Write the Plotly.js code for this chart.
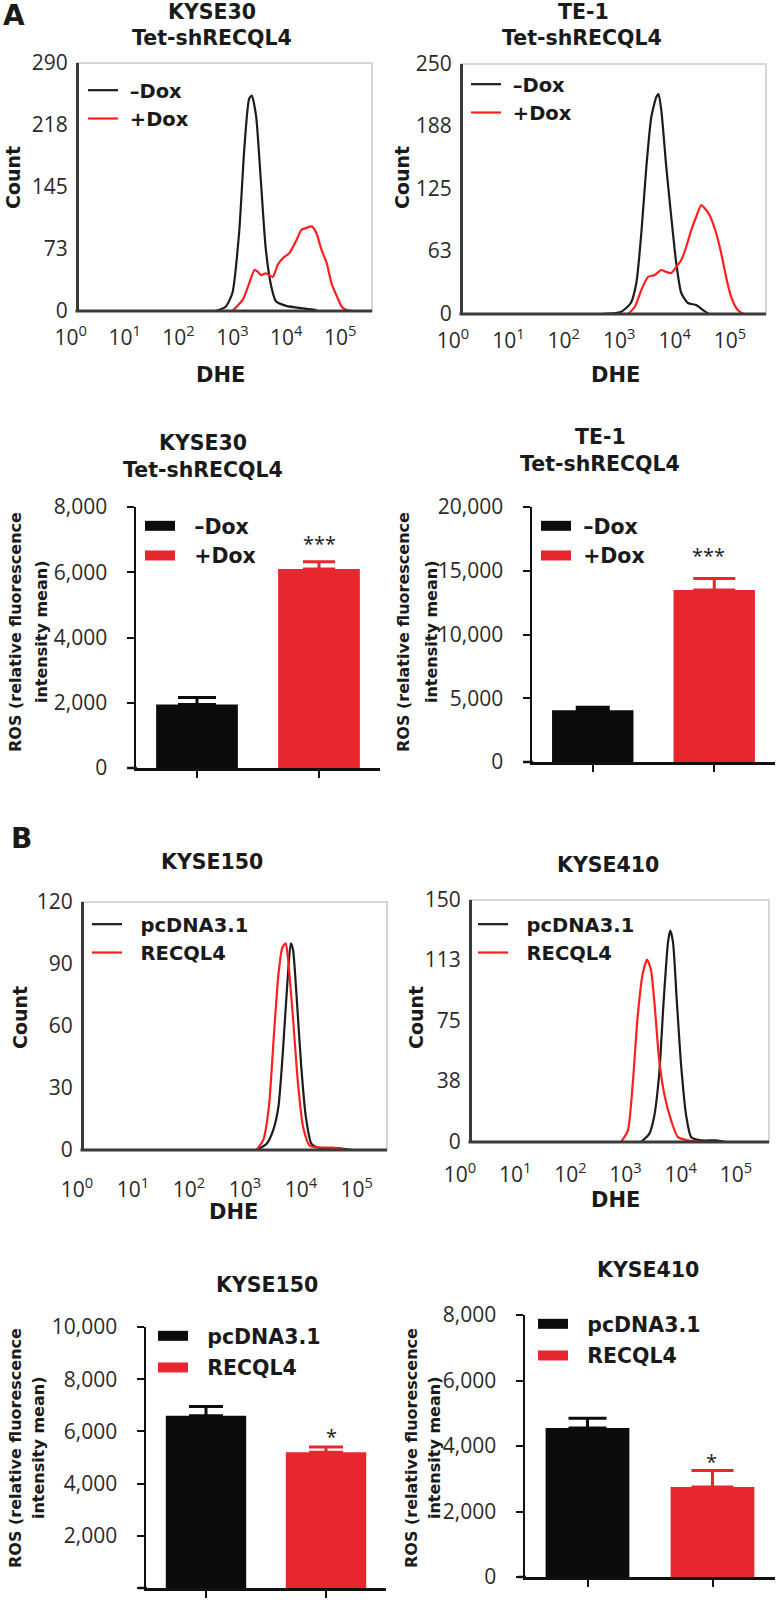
<!DOCTYPE html>
<html><head><meta charset="utf-8">
<script src="https://cdn.plot.ly/plotly-3.0.1.min.js"></script>
<style>html,body{margin:0;padding:0;background:#fff}#chart{width:776px;height:1600px}</style>
</head><body><div id="chart"></div>
<script>
// ---------- DATA ----------
// Panel A histograms (DHE fluorescence vs count)
const kyse30_negDox_dhe   = [490, 750, 1000, 1330, 1660, 2040, 2290, 2750, 3390, 4170, 5250, 6460, 10000, 20400, 36300];
const kyse30_negDox_count = [0, 5, 21, 91, 189, 248, 252, 228, 150, 72, 29, 11, 6, 3, 1];
const kyse30_posDox_dhe   = [1000, 1550, 2040, 2570, 2950, 3390, 4170, 5620, 6920, 8710, 11500, 15500, 19100, 23400, 29500, 36300, 44700, 56200, 69200, 87100, 107000, 132000, 166000];
const kyse30_posDox_count = [0, 13, 32, 48, 46, 42, 44, 40, 54, 62, 68, 83, 95, 97, 99, 91, 72, 56, 32, 17, 5, 1, 0];

const te1_negDox_dhe   = [468, 1070, 1620, 2040, 2510, 3090, 3800, 4680, 5130, 5750, 7080, 8710, 10700, 13200, 17400, 24500, 32400, 42700, 60300];
const te1_negDox_count = [0, 2, 11, 31, 81, 147, 197, 217, 220, 204, 147, 97, 51, 21, 11, 9, 4, 0, 0];
const te1_posDox_dhe   = [1450, 1910, 2510, 3310, 4370, 5750, 7080, 8710, 10700, 13200, 16200, 20000, 24500, 30200, 34700, 42700, 56200, 69200, 85100, 105000, 138000, 182000, 240000];
const te1_posDox_count = [0, 7, 24, 37, 39, 44, 42, 41, 47, 54, 67, 84, 97, 109, 106, 99, 81, 61, 37, 17, 4, 0, 0];

// Panel B histograms
const kyse150_pcdna_dhe   = [1620, 2450, 3240, 3980, 4790, 5750, 6610, 7240, 8510, 10200, 12300, 15500, 21900, 38000, 85100];
const kyse150_pcdna_count = [0, 3, 10, 21, 48, 81, 100, 97, 72, 40, 16, 3, 1, 1, 0];
const kyse150_recql4_dhe   = [1620, 2140, 2690, 3310, 3980, 4680, 5370, 5890, 7240, 8910, 11000, 14500, 38000, 66100];
const kyse150_recql4_count = [0, 5, 21, 56, 85, 98, 100, 93, 64, 32, 11, 2, 1, 0];

const kyse410_pcdna_dhe   = [1910, 2690, 3310, 4070, 4900, 5890, 6460, 7240, 8510, 10200, 12600, 15500, 23400, 43700, 66100];
const kyse410_pcdna_count = [0, 5, 16, 42, 87, 124, 131, 124, 87, 47, 16, 3, 1, 1, 0];
const kyse410_recql4_dhe   = [832, 1100, 1350, 1660, 2040, 2450, 2880, 3310, 4070, 5010, 6760, 8910, 13500, 23400];
const kyse410_recql4_count = [0, 7, 36, 78, 104, 113, 107, 88, 51, 30, 13, 3, 1, 0];

// Bar charts: ROS mean and upper error
const doxGroups   = ['–Dox', '+Dox'];
const kyse30_ros  = [1950, 6100];
const kyse30_err  = [210, 220];
const te1_ros     = [4050, 13500];
const te1_err     = [250, 900];
const plasmidGroups = ['pcDNA3.1', 'RECQL4'];
const kyse150_ros = [6600, 5200];
const kyse150_err = [350, 200];
const kyse410_ros = [4550, 2750];
const kyse410_err = [300, 500];

// Tick labels
const decadeVals  = [1, 10, 100, 1000, 10000, 100000];
const decadeText  = ['10<sup>0</sup>', '10<sup>1</sup>', '10<sup>2</sup>', '10<sup>3</sup>', '10<sup>4</sup>', '10<sup>5</sup>'];
const ticksKyse30Count = [0, 73, 145, 218, 290];
const ticksTe1Count    = [0, 63, 125, 188, 250];
const ticksKyse150Count = [0, 30, 60, 90, 120];
const ticksKyse410Count = [0, 38, 75, 113, 150];

// ---------- LAYOUT HELPERS ----------
const W = 776, H = 1600;
const FONT = 'Open Sans, Noto Sans, sans-serif';
const BOLD = 'DejaVu Sans, Open Sans, sans-serif';
const BLACK = '#1c1c1c', RED = '#ff1f1f', BARRED = '#e8262d', BARBLACK = '#0b0b0b';
const NB = '\u00a0';
const px = v => v / W;
const py = v => 1 - v / H;
const xd = (a, b) => [a / W, b / W];
const yd = (top, bottom) => [1 - bottom / H, 1 - top / H];

function histX(dom, range, anchor, standoff) {
  return {domain: xd(dom[0], dom[1]), type: 'log', range: range, anchor: anchor,
    tickvals: decadeVals, ticktext: decadeText, ticks: '', showgrid: false, zeroline: false,
    showline: false, ticklabelstandoff: standoff,
    tickfont: {family: FONT, size: 21, color: '#2a2a2a'}};
}
function histY(dom, range, vals, axisX) {
  return {domain: yd(dom[0], dom[1]), range: range, anchor: 'free', position: px(axisX), tickvals: vals,
    ticks: '', showgrid: false, zeroline: false, showline: true, linecolor: '#3a3a3a', linewidth: 3,
    ticklabelstandoff: 4, tickfont: {family: FONT, size: 21, color: '#2a2a2a'}};
}
function barX(dom, cats, anchor) {
  return {domain: xd(dom[0], dom[1]), type: 'category', categoryarray: cats, range: [-0.5, 1.5], anchor: anchor,
    showticklabels: false, ticks: 'outside', ticklen: 7, tickwidth: 2, tickcolor: '#111',
    showgrid: false, zeroline: false, showline: true, linecolor: '#111', linewidth: 2.5};
}
function barY(dom, range, dtick, anchor) {
  return {domain: yd(dom[0], dom[1]), range: range, dtick: dtick, anchor: anchor, tickformat: ',d',
    ticks: 'outside', ticklen: 7, tickwidth: 2, tickcolor: '#111', ticklabelstandoff: 15,
    showgrid: false, zeroline: false, showline: true, linecolor: '#111', linewidth: 2.5,
    tickfont: {family: FONT, size: 21, color: '#2a2a2a'}};
}
function line(x, y, name, color, xa, ya, lg) {
  return {type: 'scatter', mode: 'lines', x: x, y: y, name: name, xaxis: xa, yaxis: ya, legend: lg,
    legendgroup: lg + name,
    line: {color: color, width: 2.2, shape: 'spline', smoothing: 0.6}, hoverinfo: 'x+y'};
}
function bar(cat, val, err, color, capHalf, xa, ya) {
  return {type: 'bar', x: [cat], y: [val], width: 0.67, xaxis: xa, yaxis: ya, showlegend: false,
    marker: {color: color, line: {width: 0}},
    error_y: {type: 'data', symmetric: false, array: [err], arrayminus: [0], color: color, thickness: 3, width: capHalf}};
}
function legendKey(name, color, xa, ya, lg) {
  return {type: 'scatter', mode: 'lines', x: [null], y: [null], name: name, xaxis: xa, yaxis: ya,
    legend: lg, legendgroup: lg + name, line: {color: color, width: 15}, hoverinfo: 'skip'};
}
function legendBox(xp, yp, size, gap) {
  return {x: px(xp), y: py(yp), xanchor: 'left', yanchor: 'top', bgcolor: 'rgba(0,0,0,0)', borderwidth: 0,
    itemwidth: 30, traceorder: 'grouped', tracegroupgap: gap,
    font: {family: BOLD, size: size, color: '#1a1a1a', weight: 'bold'}};
}

// ---------- TRACES ----------
const traces = [
  line(kyse30_negDox_dhe, kyse30_negDox_count, NB + '–Dox', BLACK, 'x', 'y', 'legend'),
  line(kyse30_posDox_dhe, kyse30_posDox_count, NB + '+Dox', RED, 'x', 'y', 'legend'),
  line(te1_negDox_dhe, te1_negDox_count, NB + '–Dox', BLACK, 'x2', 'y2', 'legend2'),
  line(te1_posDox_dhe, te1_posDox_count, NB + '+Dox', RED, 'x2', 'y2', 'legend2'),

  bar(doxGroups[0], kyse30_ros[0], kyse30_err[0], BARBLACK, 19, 'x3', 'y3'),
  bar(doxGroups[1], kyse30_ros[1], kyse30_err[1], BARRED, 16, 'x3', 'y3'),
  legendKey(NB + NB + '–Dox', BARBLACK, 'x3', 'y3', 'legend3'),
  legendKey(NB + NB + '+Dox', BARRED, 'x3', 'y3', 'legend3'),

  bar(doxGroups[0], te1_ros[0], te1_err[0], BARBLACK, 17, 'x4', 'y4'),
  bar(doxGroups[1], te1_ros[1], te1_err[1], BARRED, 21, 'x4', 'y4'),
  legendKey(NB + '–Dox', BARBLACK, 'x4', 'y4', 'legend4'),
  legendKey(NB + '+Dox', BARRED, 'x4', 'y4', 'legend4'),

  line(kyse150_pcdna_dhe, kyse150_pcdna_count, NB + NB + 'pcDNA3.1', BLACK, 'x5', 'y5', 'legend5'),
  line(kyse150_recql4_dhe, kyse150_recql4_count, NB + NB + 'RECQL4', RED, 'x5', 'y5', 'legend5'),
  line(kyse410_pcdna_dhe, kyse410_pcdna_count, NB + NB + 'pcDNA3.1', BLACK, 'x6', 'y6', 'legend6'),
  line(kyse410_recql4_dhe, kyse410_recql4_count, NB + NB + 'RECQL4', RED, 'x6', 'y6', 'legend6'),

  bar(plasmidGroups[0], kyse150_ros[0], kyse150_err[0], BARBLACK, 17, 'x7', 'y7'),
  bar(plasmidGroups[1], kyse150_ros[1], kyse150_err[1], BARRED, 17, 'x7', 'y7'),
  legendKey(NB + NB + 'pcDNA3.1', BARBLACK, 'x7', 'y7', 'legend7'),
  legendKey(NB + NB + 'RECQL4', BARRED, 'x7', 'y7', 'legend7'),

  bar(plasmidGroups[0], kyse410_ros[0], kyse410_err[0], BARBLACK, 19, 'x8', 'y8'),
  bar(plasmidGroups[1], kyse410_ros[1], kyse410_err[1], BARRED, 21, 'x8', 'y8'),
  legendKey(NB + NB + 'pcDNA3.1', BARBLACK, 'x8', 'y8', 'legend8'),
  legendKey(NB + NB + 'RECQL4', BARRED, 'x8', 'y8', 'legend8')
];

// ---------- ANNOTATIONS ----------
function txt(s, x, y, size, opts, fam) {
  return Object.assign({text: s, x: px(x), y: py(y), xref: 'paper', yref: 'paper', showarrow: false,
    xanchor: 'center', yanchor: 'middle', font: {family: fam || BOLD, size: size, color: '#1a1a1a'}}, opts || {});
}
const ROS1 = '<b>ROS (relative fluorescence</b>';
const ROS2 = '<b>intensity mean)</b>';
const V = {textangle: -90};
const TA = 20.5, TB = 20.5;
const annotations = [
  txt('<b>A</b>', 14, 15, 28),
  txt('<b>B</b>', 21, 838, 28),
  txt('<b>KYSE30</b>', 212, 12, TA),
  txt('<b>Tet-shRECQL4</b>', 212, 38, TA),
  txt('<b>TE-1</b>', 583, 12, TA),
  txt('<b>Tet-shRECQL4</b>', 582, 38, TA),
  txt('<b>Count</b>', 13, 178, 19, V),
  txt('<b>Count</b>', 402, 178, 19, V),
  txt('<b>DHE</b>', 220, 375, 21),
  txt('<b>DHE</b>', 615, 375, 21),
  txt('<b>KYSE30</b>', 203, 443, TA),
  txt('<b>Tet-shRECQL4</b>', 203, 470, TA),
  txt('<b>TE-1</b>', 600, 437, TA),
  txt('<b>Tet-shRECQL4</b>', 600, 464, TA),
  txt(ROS1, 15, 632, 16, V), txt(ROS2, 41, 632, 16, V),
  txt(ROS1, 403, 632, 16, V), txt(ROS2, 431, 632, 16, V),
  txt('***', 319, 543, 20, {}, FONT),
  txt('***', 708, 555, 20, {}, FONT),
  txt('<b>KYSE150</b>', 212, 862, TB),
  txt('<b>KYSE410</b>', 608, 865, TB),
  txt('<b>Count</b>', 20, 1018, 19, V),
  txt('<b>Count</b>', 416, 1018, 19, V),
  txt('<b>DHE</b>', 233, 1212, 21),
  txt('<b>DHE</b>', 615, 1200, 21),
  txt('<b>KYSE150</b>', 267, 1285, TB),
  txt('<b>KYSE410</b>', 648, 1270, TB),
  txt(ROS1, 15, 1448, 16, V), txt(ROS2, 38, 1448, 16, V),
  txt(ROS1, 411, 1448, 16, V), txt(ROS2, 434, 1448, 16, V),
  txt('*', 331, 1436, 20, {}, FONT),
  txt('*', 711, 1461, 20, {}, FONT)
];

// Histogram frames: light grey box plus dark bottom axis line starting at the y axis
function frame(ya, left, right) {
  return {type: 'rect', xref: 'paper', yref: ya + ' domain', x0: px(left), x1: px(right), y0: 0, y1: 1,
    line: {color: '#c9c9c9', width: 1.5}, layer: 'below'};
}
function baseLine(ya, left, right) {
  return {type: 'line', xref: 'paper', yref: ya + ' domain', x0: px(left - 1.5), x1: px(right), y0: 0, y1: 0,
    line: {color: '#3a3a3a', width: 3}, layer: 'above'};
}
// Bar-chart x axis continues a little to the left of the y axis
function stub(ya, left, right) {
  return {type: 'line', xref: 'paper', yref: ya + ' domain', x0: px(left), x1: px(right), y0: 0, y1: 0,
    line: {color: '#111', width: 2.5}, layer: 'above'};
}

const layout = {
  width: W, height: H, margin: {l: 0, r: 0, t: 0, b: 0},
  paper_bgcolor: '#fff', plot_bgcolor: 'rgba(0,0,0,0)',
  barmode: 'overlay', showlegend: true,
  font: {family: FONT, color: '#1a1a1a'},
  xaxis:  histX([70.7, 372], [0, 5.59], 'y', 12),
  yaxis:  histY([63, 311], [0, 290], ticksKyse30Count, 77),
  xaxis2: histX([453, 766], [0, 5.65], 'y2', 12),
  yaxis2: histY([64, 314], [0, 250], ticksTe1Count, 461),
  xaxis3: barX([136, 380], doxGroups, 'y3'),
  yaxis3: barY([507, 768], [0, 8000], 2000, 'x3'),
  xaxis4: barX([532, 775], doxGroups, 'y4'),
  yaxis4: barY([507, 762], [0, 20000], 5000, 'x4'),
  xaxis5: histX([77, 387], [0, 5.54], 'y5', 25),
  yaxis5: histY([902, 1150], [0, 120], ticksKyse150Count, 82),
  xaxis6: histX([460, 769], [0, 5.6], 'y6', 18),
  yaxis6: histY([900, 1142], [0, 150], ticksKyse410Count, 470),
  xaxis7: barX([146, 386], plasmidGroups, 'y7'),
  yaxis7: barY([1327, 1588], [0, 10000], 2000, 'x7'),
  xaxis8: barX([525, 775], plasmidGroups, 'y8'),
  yaxis8: barY([1315, 1577], [0, 8000], 2000, 'x8'),
  legend:  legendBox(83, 71, 19.5, 0),
  legend2: legendBox(466, 65, 19.5, 0),
  legend3: legendBox(140, 506, 20.5, 0),
  legend4: legendBox(536, 506, 20.5, 0),
  legend5: legendBox(87, 905, 19.5, 0),
  legend6: legendBox(473, 905, 19.5, 0),
  legend7: legendBox(153, 1316, 20.5, 2),
  legend8: legendBox(533, 1304, 20.5, 2),
  shapes: [frame('y', 77, 372), frame('y2', 461, 766), frame('y5', 82, 387), frame('y6', 470, 769),
           baseLine('y', 77, 372), baseLine('y2', 461, 766), baseLine('y5', 82, 387), baseLine('y6', 470, 769),
           stub('y3', 127, 137), stub('y4', 523, 533), stub('y7', 138, 147), stub('y8', 518, 526)],
  annotations: annotations
};

Plotly.newPlot('chart', traces, layout, {staticPlot: true, displayModeBar: false});
</script></body></html>
